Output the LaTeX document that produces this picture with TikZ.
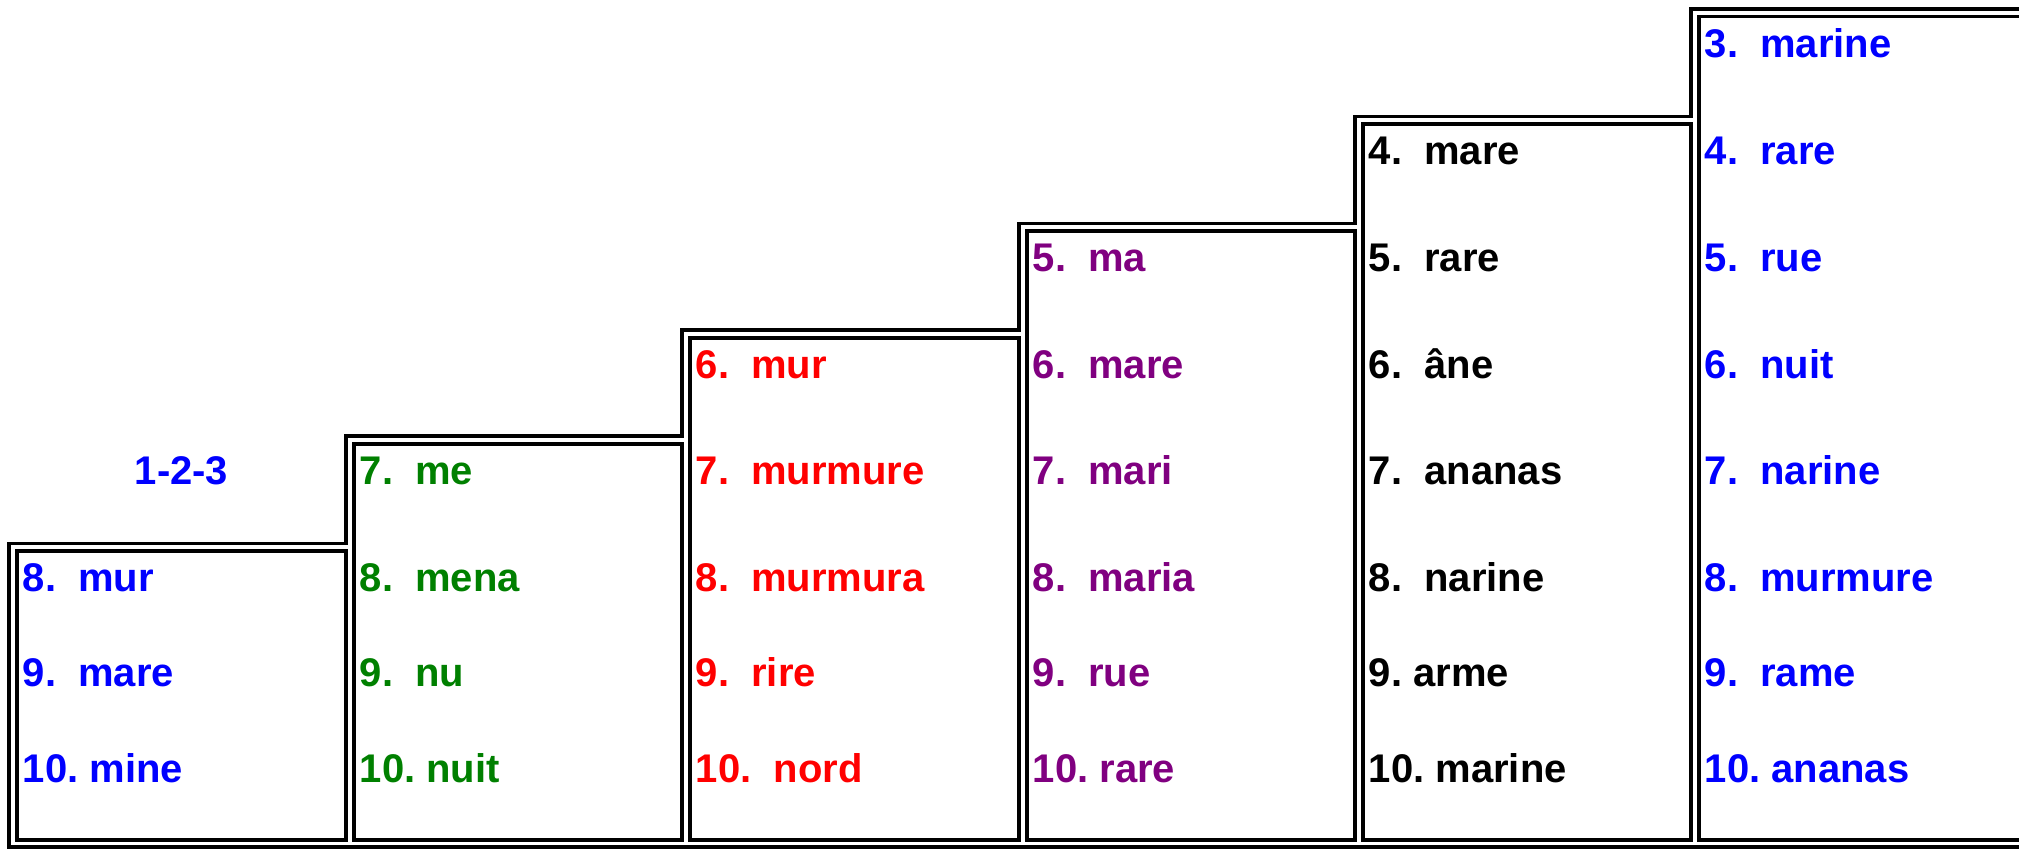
\documentclass[tikz,border=0pt]{standalone}
\usepackage{fontspec}
\setmainfont{Liberation Sans}
\definecolor{listblue}{RGB}{0,0,255}
\definecolor{listgreen}{RGB}{0,128,0}
\definecolor{listred}{RGB}{255,0,0}
\definecolor{listpurple}{RGB}{128,0,128}
\begin{document}
\frenchspacing
\begin{tikzpicture}[x=0.5pt,y=-0.5pt,line width=1.85pt,
  word/.style={anchor=base west,inner sep=0pt,font=\bfseries\fontsize{20}{24}\selectfont}]
\useasboundingbox (0,0) rectangle (2019,849);
\clip (0,0) rectangle (2019,849);
% outer staircase line
\draw [black] (2030,847) -- (9,847) -- (9,543.5) -- (346,543.5) -- (346,436) -- (682,436) -- (682,330) -- (1019,330) -- (1019,223.5) -- (1355,223.5) -- (1355,116.5) -- (1691,116.5) -- (1691,9) -- (2030,9);
% inner lines of the six steps
\draw [black] (17,840) rectangle (346,551);
\draw [black] (354,840) rectangle (682,444);
\draw [black] (690,840) rectangle (1019,338);
\draw [black] (1027,840) rectangle (1355,231);
\draw [black] (1363,840) rectangle (1691,124);
\draw [black] (1699,840) rectangle (2030,16.5);
% step 1
\node [word,anchor=base,listblue] (title) at (181.5,485) {1-2-3};
\node [word,listblue] (a8) at (21,592) {8.\ \ mur};
\node [word,listblue] (a9) at (21,687) {9.\ \ mare};
\node [word,listblue] (a10) at (21,782) {10.\ mine};
% step 2
\node [word,listgreen] (b7) at (358,485) {7.\ \ me};
\node [word,listgreen] (b8) at (358,592) {8.\ \ mena};
\node [word,listgreen] (b9) at (358,687) {9.\ \ nu};
\node [word,listgreen] (b10) at (358,782) {10.\ nuit};
% step 3
\node [word,listred] (c6) at (694,378.5) {6.\ \ mur};
\node [word,listred] (c7) at (694,485) {7.\ \ murmure};
\node [word,listred] (c8) at (694,592) {8.\ \ murmura};
\node [word,listred] (c9) at (694,687) {9.\ \ rire};
\node [word,listred] (c10) at (694,782) {10.\ \ nord};
% step 4
\node [word,listpurple] (d5) at (1031,271.5) {5.\ \ ma};
\node [word,listpurple] (d6) at (1031,378.5) {6.\ \ mare};
\node [word,listpurple] (d7) at (1031,485) {7.\ \ mari};
\node [word,listpurple] (d8) at (1031,592) {8.\ \ maria};
\node [word,listpurple] (d9) at (1031,687) {9.\ \ rue};
\node [word,listpurple] (d10) at (1031,782) {10.\ rare};
% step 5
\node [word,black] (e4) at (1367,165) {4.\ \ mare};
\node [word,black] (e5) at (1367,271.5) {5.\ \ rare};
\node [word,black] (e6) at (1367,378.5) {6.\ \ âne};
\node [word,black] (e7) at (1367,485) {7.\ \ ananas};
\node [word,black] (e8) at (1367,592) {8.\ \ narine};
\node [word,black] (e9) at (1367,687) {9.\ arme};
\node [word,black] (e10) at (1367,782) {10.\ marine};
% step 6
\node [word,listblue] (f3) at (1703,58) {3.\ \ marine};
\node [word,listblue] (f4) at (1703,165) {4.\ \ rare};
\node [word,listblue] (f5) at (1703,271.5) {5.\ \ rue};
\node [word,listblue] (f6) at (1703,378.5) {6.\ \ nuit};
\node [word,listblue] (f7) at (1703,485) {7.\ \ narine};
\node [word,listblue] (f8) at (1703,592) {8.\ \ murmure};
\node [word,listblue] (f9) at (1703,687) {9.\ \ rame};
\node [word,listblue] (f10) at (1703,782) {10.\ ananas};
\end{tikzpicture}
\end{document}
